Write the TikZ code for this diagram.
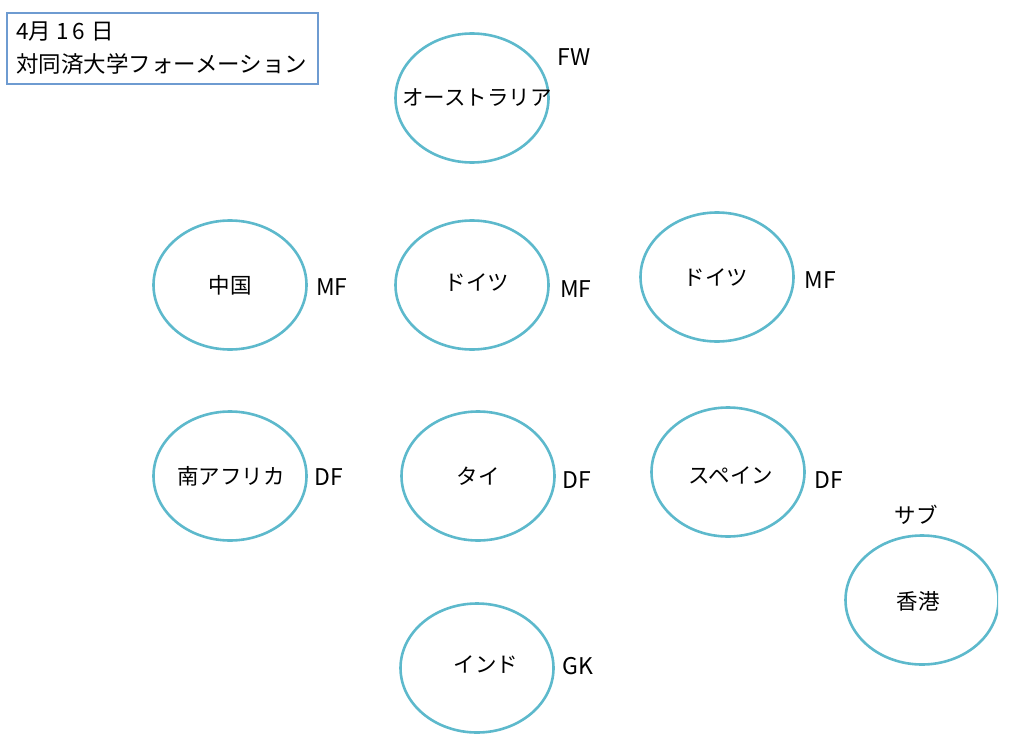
\documentclass[tikz,border=0pt]{standalone}
\usepackage{fontspec}
\setmainfont{Noto Sans CJK JP}
\usetikzlibrary{shapes.geometric}
\definecolor{ell}{HTML}{5DB9CC}
\definecolor{boxc}{HTML}{6E9BD1}
\begin{document}
\begin{tikzpicture}[x=1pt,y=-1pt,
  posell/.style={draw=ell,line width=2.6pt,ellipse,minimum width=153pt,minimum height=129pt,inner sep=0pt},
  pname/.style={font=\fontsize{21.5}{24}\selectfont,inner sep=0pt},
  prole/.style={font=\fontsize{23}{26}\selectfont,inner sep=0pt}]
\useasboundingbox (0,0) rectangle (1024,749);
% title box
\node[draw=boxc,line width=1.6pt,minimum width=311pt,minimum height=71pt,inner sep=0pt] (tb) at (162.5,48.5) {};
\node[anchor=west,inner sep=0pt,font=\fontsize{22.5}{26}\selectfont] (t1) at (16,32) {4月\hspace{5pt}1\hspace{4pt}6\hspace{6pt}日};
\node[anchor=west,inner sep=0pt,font=\fontsize{22.5}{26}\selectfont] (t2) at (16,64) {対同済大学フォーメーション};
% ellipses
\node[posell] (fw) at (472,98) {};
\node[posell] (mf1) at (230,285) {};
\node[posell] (mf2) at (472,285) {};
\node[posell] (mf3) at (717,277) {};
\node[posell] (df1) at (230,476) {};
\node[posell] (df2) at (478,476) {};
\node[posell] (df3) at (728,472) {};
\node[posell] (gk) at (477,668) {};
\begin{scope}
\clip (800,520) rectangle (998,680);
\node[posell] (sub) at (922,600) {};
\end{scope}
% names
\node[pname] (nfw) at (477,98) {オーストラリア};
\node[pname] (nmf1) at (230,285) {中国};
\node[pname] (nmf2) at (477,283) {ドイツ};
\node[pname] (nmf3) at (716,278) {ドイツ};
\node[pname] (ndf1) at (231,476) {南アフリカ};
\node[pname] (ndf2) at (478,476) {タイ};
\node[pname] (ndf3) at (731,475) {スペイン};
\node[pname] (ngk) at (486,665) {インド};
\node[pname] (nsub) at (918,601) {香港};
% roles
\node[prole] (rfw) at (574,57) {FW};
\node[prole] (rmf1) at (332,287) {MF};
\node[prole] (rmf2) at (576,289) {MF};
\node[prole] (rmf3) at (820,280) {MF};
\node[prole] (rdf1) at (329,477) {DF};
\node[prole] (rdf2) at (577,480) {DF};
\node[prole] (rdf3) at (829,480) {DF};
\node[prole] (rgk) at (578,666) {GK};
\node[pname] (rsub) at (916,515) {サブ};
\end{tikzpicture}
\end{document}
